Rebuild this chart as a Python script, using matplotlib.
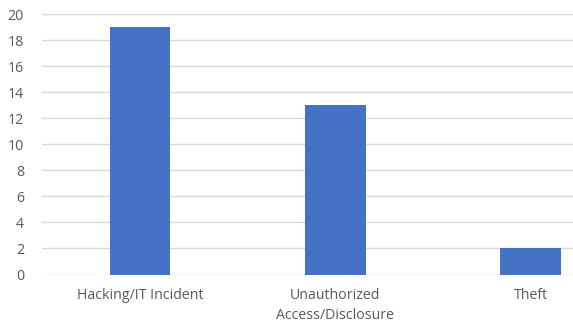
import matplotlib
matplotlib.use("Agg")
import matplotlib.pyplot as plt

categories = ["Hacking/IT Incident", "Unauthorized\nAccess/Disclosure", "Theft"]
values = [19, 13, 2]
yticks = [0, 2, 4, 6, 8, 10, 12, 14, 16, 18, 20]

plt.rcParams['font.family'] = ['Open Sans', 'DejaVu Sans']
fig = plt.figure(figsize=(5.73, 3.25), dpi=100)
ax = fig.add_axes([42/573, (325-274.5)/325, 1 - 42/573, (274.5-14)/325])
x = list(range(len(categories)))
ax.bar(x, values, width=0.312, color="#4472C4", zorder=3)
ax.set_xlim(-0.502, 2.218)
ax.set_ylim(0, 20)
ax.set_yticks(yticks)
ax.set_xticks(x)
ax.set_xticklabels(categories, fontsize=10.2, color="#595959", linespacing=1.45)
ax.tick_params(axis='y', labelsize=10.2, labelcolor="#595959", length=0, pad=13)
ax.tick_params(axis='x', length=0, pad=10)
ax.grid(axis='y', color="#D9D9D9", linewidth=1, zorder=0)
for s in ax.spines.values():
    s.set_visible(False)
fig.savefig("out.png", dpi=100)
